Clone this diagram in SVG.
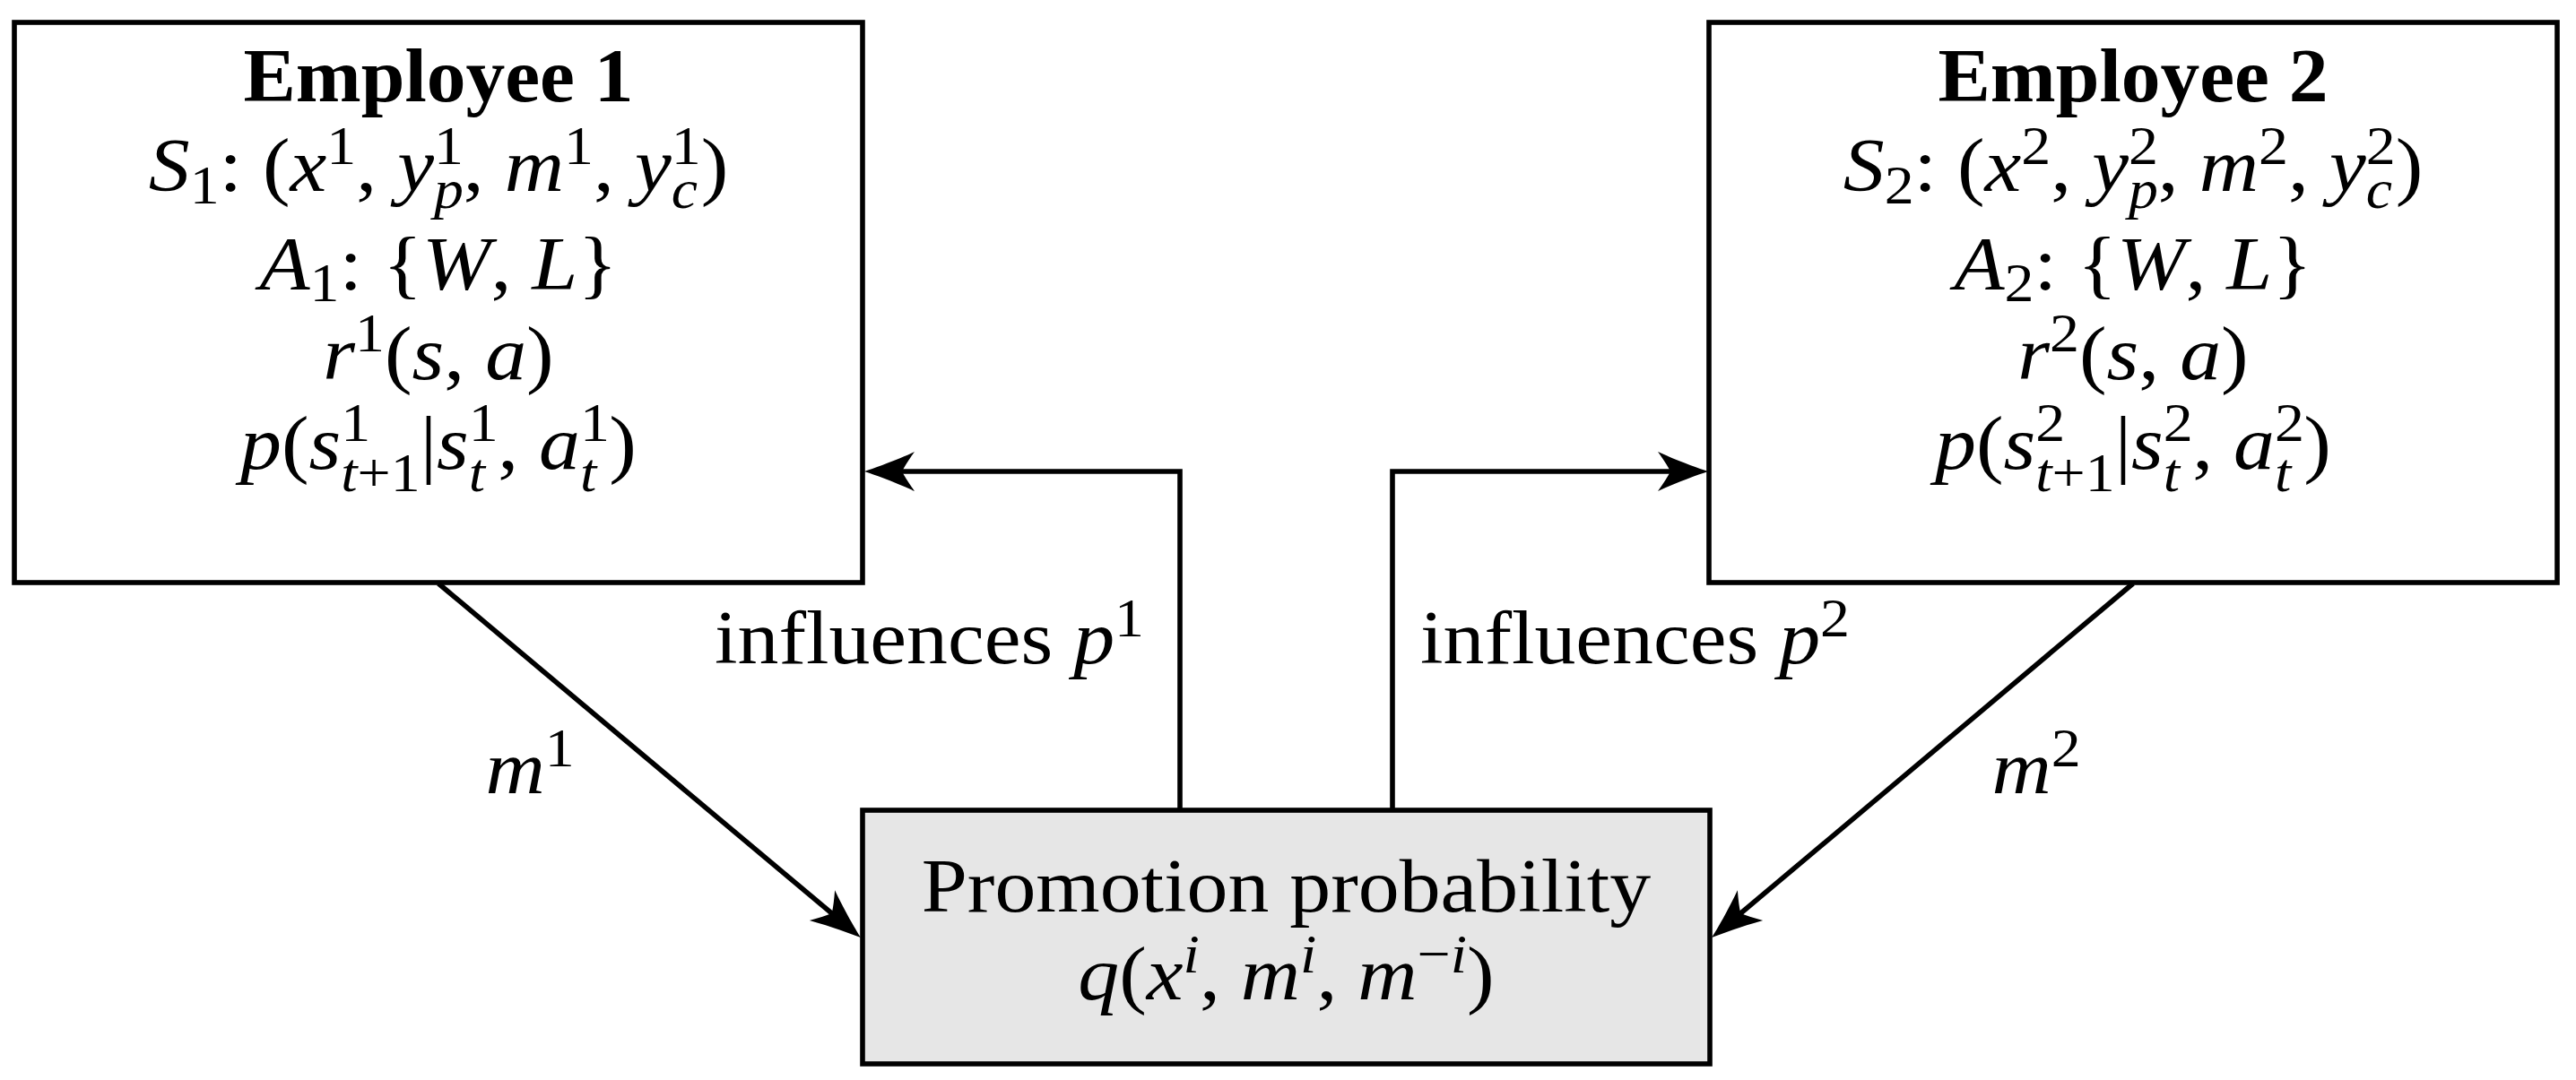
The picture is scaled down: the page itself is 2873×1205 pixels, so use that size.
<svg xmlns="http://www.w3.org/2000/svg" width="2873" height="1205" viewBox="0 0 2873 1205">
<style>
text{font-family:"Liberation Serif","Times New Roman",serif;font-size:85px;fill:#000}
.c{text-anchor:middle}
.b{font-weight:bold}
.it{font-style:italic}
.sc{font-size:61px}
.box{fill:#fff;stroke:#000;stroke-width:5.6}
.gray{fill:#e6e6e6;stroke:#000;stroke-width:5.6}
.edge{fill:none;stroke:#000;stroke-width:5.6;marker-end:url(#arr)}
</style>
<defs>
<marker id="arr" markerUnits="userSpaceOnUse" orient="auto" refX="3" refY="0" markerWidth="1" markerHeight="1" overflow="visible">
<path d="M42,0 C30,-4 10,-11 -14,-22 Q-4,-8 0,0 Q-4,8 -14,22 C10,11 30,4 42,0 Z" fill="#000"/>
</marker>
</defs>
<rect width="2873" height="1205" fill="#fff"/>
<g id="connectors">
<path class="edge" d="M489,651 L930,1021"/>
<path class="edge" d="M2379,651 L1939,1021"/>
<path class="edge" d="M1316,904 V526 H1003"/>
<path class="edge" d="M1553,904 V526 H1866"/>
<text x="1276" y="740" text-anchor="end" transform="matrix(1.08 0 0 1 -102.08 0)">influences <tspan class="it">p</tspan><tspan class="sc" dy="-30">1</tspan></text>
<text x="1584" y="740" transform="matrix(1.08 0 0 1 -126.72 0)">influences <tspan class="it">p</tspan><tspan class="sc" dy="-30">2</tspan></text>
<text class="c" x="591" y="885" transform="matrix(1.08 0 0 1 -47.28 0)"><tspan class="it">m</tspan><tspan class="sc" dy="-30">1</tspan></text>
<text class="c" x="2271" y="885" transform="matrix(1.08 0 0 1 -181.68 0)"><tspan class="it">m</tspan><tspan class="sc" dy="-30">2</tspan></text>
</g>
<g id="employee1">
<rect class="box" x="16" y="25" width="946" height="625"/>
<text class="c b" x="489" y="113" transform="matrix(1.03 0 0 1 -14.67 0)">Employee 1</text>
<g transform="matrix(1.08 0 0 1 -39.12 0)">
<text class="c" x="489" y="213"><tspan class="it">S</tspan><tspan class="sc" dy="14">1</tspan><tspan dy="-14">: (</tspan><tspan class="it">x</tspan><tspan class="sc" dy="-30">1</tspan><tspan dy="30">, </tspan><tspan class="it">y</tspan><tspan class="sc" dy="-30">1</tspan><tspan class="sc it" dx="-30.5" dy="49">p</tspan><tspan dy="-19">, </tspan><tspan class="it">m</tspan><tspan class="sc" dy="-30">1</tspan><tspan dy="30">, </tspan><tspan class="it">y</tspan><tspan class="sc" dy="-30">1</tspan><tspan class="sc it" dx="-30.5" dy="49">c</tspan><tspan dx="3.5" dy="-19">)</tspan></text>
<text class="c" x="489" y="323"><tspan class="it">A</tspan><tspan class="sc" dy="13">1</tspan><tspan dy="-13">: {</tspan><tspan class="it">W</tspan>, <tspan class="it">L</tspan>}</text>
<text class="c" x="489" y="423"><tspan class="it">r</tspan><tspan class="sc" dy="-31">1</tspan><tspan dy="31">(</tspan><tspan class="it">s</tspan>, <tspan class="it">a</tspan>)</text>
<text class="c" x="489" y="523"><tspan class="it">p</tspan>(<tspan class="it">s</tspan><tspan class="sc" dy="-31">1</tspan><tspan class="sc" dx="-30.5" dy="56"><tspan class="it">t</tspan>+1</tspan><tspan dy="-25">|</tspan><tspan class="it">s</tspan><tspan class="sc" dy="-31">1</tspan><tspan class="sc it" dx="-30.5" dy="56">t</tspan><tspan dx="13" dy="-25">, </tspan><tspan class="it">a</tspan><tspan class="sc" dy="-31">1</tspan><tspan class="sc it" dx="-30.5" dy="56">t</tspan><tspan dx="13" dy="-25">)</tspan></text>
</g>
</g>
<g id="employee2">
<rect class="box" x="1906" y="25" width="946" height="625"/>
<text class="c b" x="2379" y="113" transform="matrix(1.03 0 0 1 -71.37 0)">Employee 2</text>
<g transform="matrix(1.08 0 0 1 -190.32 0)">
<text class="c" x="2379" y="213"><tspan class="it">S</tspan><tspan class="sc" dy="14">2</tspan><tspan dy="-14">: (</tspan><tspan class="it">x</tspan><tspan class="sc" dy="-30">2</tspan><tspan dy="30">, </tspan><tspan class="it">y</tspan><tspan class="sc" dy="-30">2</tspan><tspan class="sc it" dx="-30.5" dy="49">p</tspan><tspan dy="-19">, </tspan><tspan class="it">m</tspan><tspan class="sc" dy="-30">2</tspan><tspan dy="30">, </tspan><tspan class="it">y</tspan><tspan class="sc" dy="-30">2</tspan><tspan class="sc it" dx="-30.5" dy="49">c</tspan><tspan dx="3.5" dy="-19">)</tspan></text>
<text class="c" x="2379" y="323"><tspan class="it">A</tspan><tspan class="sc" dy="13">2</tspan><tspan dy="-13">: {</tspan><tspan class="it">W</tspan>, <tspan class="it">L</tspan>}</text>
<text class="c" x="2379" y="423"><tspan class="it">r</tspan><tspan class="sc" dy="-31">2</tspan><tspan dy="31">(</tspan><tspan class="it">s</tspan>, <tspan class="it">a</tspan>)</text>
<text class="c" x="2379" y="523"><tspan class="it">p</tspan>(<tspan class="it">s</tspan><tspan class="sc" dy="-31">2</tspan><tspan class="sc" dx="-30.5" dy="56"><tspan class="it">t</tspan>+1</tspan><tspan dy="-25">|</tspan><tspan class="it">s</tspan><tspan class="sc" dy="-31">2</tspan><tspan class="sc it" dx="-30.5" dy="56">t</tspan><tspan dx="13" dy="-25">, </tspan><tspan class="it">a</tspan><tspan class="sc" dy="-31">2</tspan><tspan class="sc it" dx="-30.5" dy="56">t</tspan><tspan dx="13" dy="-25">)</tspan></text>
</g>
</g>
<g id="promotion">
<rect class="gray" x="962" y="904" width="945" height="283"/>
<g transform="matrix(1.08 0 0 1 -114.76 0)">
<text class="c" x="1434.5" y="1017">Promotion probability</text>
<text class="c" x="1434.5" y="1115"><tspan class="it">q</tspan>(<tspan class="it">x</tspan><tspan class="sc it" dy="-30">i</tspan><tspan dy="30">, </tspan><tspan class="it">m</tspan><tspan class="sc it" dy="-30">i</tspan><tspan dy="30">, </tspan><tspan class="it">m</tspan><tspan class="sc" dy="-30">−<tspan class="it">i</tspan></tspan><tspan dy="30">)</tspan></text>
</g>
</g>
</svg>
